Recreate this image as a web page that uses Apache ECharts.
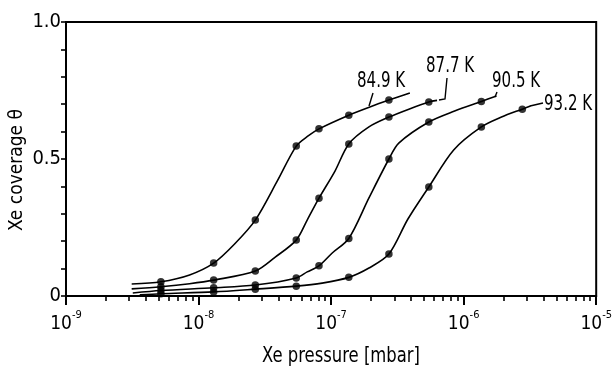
<!DOCTYPE html>
<html>
<head>
<meta charset="utf-8">
<script src="https://cdn.jsdelivr.net/npm/echarts@6/dist/echarts.min.js"></script>
<style>html,body{margin:0;padding:0;background:#fff}#c{width:615px;height:370px}</style>
</head>
<body>
<div id="c"></div>
<script>
// measured points (pressure in mbar, coverage)
const pts849 = [[5.2e-9,0.052],[1.3e-8,0.12],[2.68e-8,0.277],[5.46e-8,0.547],[8.1e-8,0.61],[1.36e-7,0.66],[2.73e-7,0.715]];
const pts877 = [[5.2e-9,0.034],[1.3e-8,0.058],[2.68e-8,0.091],[5.46e-8,0.204],[8.1e-8,0.357],[1.36e-7,0.555],[2.73e-7,0.653],[5.46e-7,0.708]];
const pts905 = [[5.2e-9,0.02],[1.3e-8,0.03],[2.68e-8,0.04],[5.46e-8,0.066],[8.1e-8,0.11],[1.36e-7,0.21],[2.73e-7,0.5],[5.46e-7,0.635],[1.36e-6,0.71]];
const pts932 = [[5.2e-9,0.008],[1.3e-8,0.015],[2.68e-8,0.025],[5.46e-8,0.036],[1.36e-7,0.068],[2.73e-7,0.153],[5.46e-7,0.398],[1.36e-6,0.617],[2.77e-6,0.682]];
// drawn fit curves
const curve849 = [[3.13e-9,0.044],[5.2e-9,0.052],[8.56e-9,0.077],[1.3e-8,0.12],[1.87e-8,0.19],[2.68e-8,0.277],[3.93e-8,0.42],[5.46e-8,0.547],[6.71e-8,0.584],[8.1e-8,0.61],[1.36e-7,0.66],[1.96e-7,0.69],[2.73e-7,0.715],[3.93e-7,0.741]];
const curve877 = [[3.13e-9,0.026],[5.2e-9,0.034],[8.56e-9,0.045],[1.3e-8,0.058],[2.68e-8,0.091],[3.79e-8,0.142],[5.46e-8,0.204],[6.6e-8,0.277],[8.1e-8,0.357],[1.07e-7,0.456],[1.36e-7,0.555],[1.93e-7,0.617],[2.73e-7,0.653],[3.86e-7,0.682],[5.46e-7,0.708],[6.3e-7,0.714]];
const curve905 = [[3.19e-9,0.011],[5.2e-9,0.02],[1.3e-8,0.03],[2.68e-8,0.04],[5.46e-8,0.066],[6.6e-8,0.088],[8.1e-8,0.11],[1.02e-7,0.157],[1.36e-7,0.21],[1.93e-7,0.358],[2.73e-7,0.5],[3.24e-7,0.558],[5.46e-7,0.635],[8.55e-7,0.675],[1.36e-6,0.71],[1.77e-6,0.73]];
const curve932 = [[3.6e-9,0.004],[5.2e-9,0.008],[1.3e-8,0.015],[2.68e-8,0.025],[5.46e-8,0.036],[8.56e-8,0.047],[1.36e-7,0.068],[1.93e-7,0.102],[2.73e-7,0.153],[3.79e-7,0.28],[5.46e-7,0.398],[8.41e-7,0.533],[1.36e-6,0.617],[1.93e-6,0.653],[2.77e-6,0.682],[3.19e-6,0.693]];
const seriesNames = ['84.9 K','87.7 K','90.5 K','93.2 K'];
const xTitle = 'Xe pressure [mbar]';
const yTitle = 'Xe coverage θ';
const xMinorTicks = [];
[-9,-8,-7,-6].forEach(function(e){ [2,3,4,5,6,7,8,9].forEach(function(k){ xMinorTicks.push(k*Math.pow(10,e)); }); });
const yTickLabels = {'0':'0','0.5':'0.5','1':'1.0'};

const FONT = "'DejaVu Sans Condensed',sans-serif";
const chart = echarts.init(document.getElementById('c'), null, {renderer:'canvas'});
const curves = [curve849, curve877, curve905, curve932];
const points = [pts849, pts877, pts905, pts932];
const series = [];
curves.forEach(function(c,i){
  series.push({type:'line', name:seriesNames[i], data:c, smooth:0.3, symbol:'none',
    lineStyle:{color:'#000', width:1.6}, z:2, silent:true});
});
points.forEach(function(p,i){
  series.push({type:'scatter', name:seriesNames[i]+' pts', data:p, symbol:'circle', symbolSize:7.5,
    itemStyle:{color:'#000'}, z:3, silent:true});
});

chart.setOption({
  animation:false,
  backgroundColor:'#fff',
  textStyle:{fontFamily:FONT, color:'#000'},
  grid:{left:66, right:13, top:22, bottom:74, show:true, borderColor:'#000', borderWidth:2, backgroundColor:'transparent'},
  xAxis:[{
    type:'log', logBase:10, min:1e-9, max:1e-5, position:'bottom',
    axisLine:{show:true, lineStyle:{color:'#000', width:2}},
    axisTick:{show:true, inside:false, length:9, lineStyle:{color:'#000', width:2}},
    splitLine:{show:false}, minorTick:{show:false},
    axisLabel:{margin:14, formatter:function(v){ return '{b|10}{e|' + Math.round(Math.log10(v)) + '}'; },
      rich:{b:{fontFamily:FONT, fontSize:19, lineHeight:24, verticalAlign:'bottom', color:'#000'},
            e:{fontFamily:FONT, fontSize:11, lineHeight:11, verticalAlign:'top', color:'#000'}}}
  },{
    type:'log', logBase:10, min:1e-9, max:1e-5, position:'bottom',
    axisLine:{show:false}, axisLabel:{show:false}, splitLine:{show:false},
    axisTick:{show:true, inside:false, length:5, customValues:xMinorTicks, lineStyle:{color:'#000', width:1.6}}
  }],
  yAxis:{
    type:'value', min:0, max:1, interval:0.1,
    axisLine:{show:true, lineStyle:{color:'#000', width:2}},
    axisTick:{show:true, inside:false, length:5, lineStyle:{color:'#000', width:1.6}},
    splitLine:{show:false},
    axisLabel:{margin:5, fontFamily:FONT, fontSize:20, color:'#000',
      formatter:function(v){ const k = String(Math.round(v*10)/10); return yTickLabels[k] || ''; }}
  },
  series:series
});

// titles and curve labels (narrow lettering imitated with a horizontal squeeze)
function txt(s,x,y,size,sx,align,rot){
  return {type:'text', x:x, y:y, scaleX:sx, rotation:rot||0,
    style:{text:s, verticalAlign:'middle', align:align||'left', fontFamily:FONT, fontSize:size, fill:'#000'}, z:10};
}
function pl(pts){ return {type:'polyline', shape:{points:pts}, style:{stroke:'#000', lineWidth:1.4, fill:null}, z:10}; }
chart.setOption({graphic:[
  txt(xTitle, 341, 356, 22, 0.83, 'center'),
  txt(yTitle, 17, 170, 20, 0.95, 'center', Math.PI/2),
  txt(seriesNames[0], 357, 81, 22, 0.76), pl([[369,106],[373,93]]),
  txt(seriesNames[1], 426, 66, 22, 0.76), pl([[439,100],[445,99],[447,78]]),
  txt(seriesNames[2], 492, 81, 22, 0.76), pl([[495,97],[497,92]]),
  txt(seriesNames[3], 544, 104, 22, 0.76), pl([[530,106],[543,103]])
]});
</script>
</body>
</html>
